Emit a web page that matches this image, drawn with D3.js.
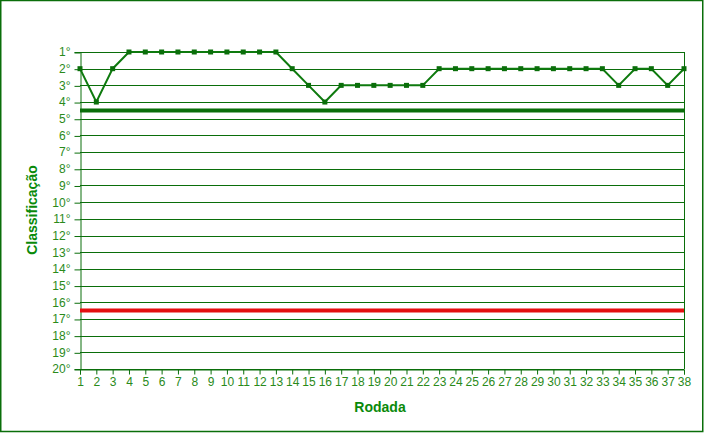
<!DOCTYPE html>
<html><head><meta charset="utf-8">
<script src="https://cdn.jsdelivr.net/npm/d3@7"></script>
<style>body{margin:0;background:#fff}svg{display:block}</style>
</head><body>
<svg id="c" width="704" height="433"></svg>
<script>
const rounds = d3.range(1, 39);
const positions = [2,4,2,1,1,1,1,1,1,1,1,1,1,2,3,4,3,3,3,3,3,3,2,2,2,2,2,2,2,2,2,2,2,3,2,2,3,2];
const positionTicks = d3.range(1, 21);
const libertadoresCut = 4.5;
const relegationCut = 16.5;

const svg = d3.select("#c");
const m = {l:80, r:684, t:52, b:369};
const x = d3.scaleLinear().domain([1,38]).range([m.l, m.r]);
const y = d3.scaleLinear().domain([1,20]).range([m.t, m.b]);
const dark = "#0a6e0a";
const lab = "#2a8a1a";

svg.append("rect").attr("x",0.75).attr("y",0.5).attr("width",702).attr("height",431)
  .attr("fill","#fff").attr("stroke",dark).attr("stroke-width",1.5);

// gridlines
svg.append("g").selectAll("line").data(positionTicks).join("line")
  .attr("x1",m.l).attr("x2",m.r).attr("y1",d=>Math.round(y(d))+0.5).attr("y2",d=>Math.round(y(d))+0.5)
  .attr("stroke",dark).attr("stroke-width",1);
svg.append("line").attr("x1",m.r+0.5).attr("x2",m.r+0.5).attr("y1",m.t).attr("y2",m.b)
  .attr("stroke",dark);

// axes
const yAxis = d3.axisLeft(y).tickValues(positionTicks).tickFormat(d=>d+"°").tickSize(6).tickPadding(4);
const gy = svg.append("g").attr("transform",`translate(${m.l+0.5},0)`).call(yAxis);
const xAxis = d3.axisBottom(x).tickValues(rounds).tickFormat(d=>d).tickSize(5).tickPadding(3);
const gx = svg.append("g").attr("transform",`translate(0,${m.b+0.5})`).call(xAxis);
[gx,gy].forEach(g=>{
  g.selectAll(".domain").attr("stroke",dark).attr("stroke-width",1);
  g.selectAll(".tick line").attr("stroke",dark);
  g.selectAll("text").attr("fill",lab).style("font-family","Arial, Liberation Sans, sans-serif").style("font-size","12px");
});
gy.selectAll(".tick line").attr("transform","translate(0,0.5)");

// reference lines
svg.append("line").attr("x1",m.l).attr("x2",m.r).attr("y1",y(libertadoresCut)).attr("y2",y(libertadoresCut))
  .attr("stroke","#0a6e0a").attr("stroke-width",4);
svg.append("line").attr("x1",m.l).attr("x2",m.r).attr("y1",y(relegationCut)).attr("y2",y(relegationCut))
  .attr("stroke","#e41010").attr("stroke-width",4);

// series
const data = rounds.map((r,i)=>({r, p:positions[i]}));
svg.append("path").datum(data)
  .attr("d", d3.line().x(d=>x(d.r)).y(d=>y(d.p)))
  .attr("fill","none").attr("stroke","#0e7a0e").attr("stroke-width",2);
svg.append("g").selectAll("rect").data(data).join("rect")
  .attr("x",d=>x(d.r)-2.5).attr("y",d=>y(d.p)-2.5).attr("width",5).attr("height",5)
  .attr("fill","#0a6e0a");

// titles
svg.append("text").attr("x",380).attr("y",412).attr("text-anchor","middle")
  .attr("fill","#0a8a0a").style("font-family","Arial, Liberation Sans, sans-serif")
  .style("font-size","14px").style("font-weight","bold").text("Rodada");
svg.append("text").attr("transform","translate(37,210) rotate(-90)").attr("text-anchor","middle")
  .attr("fill","#0a8a0a").style("font-family","Arial, Liberation Sans, sans-serif")
  .style("font-size","14px").style("font-weight","bold").text("Classificação");
</script>
</body></html>
